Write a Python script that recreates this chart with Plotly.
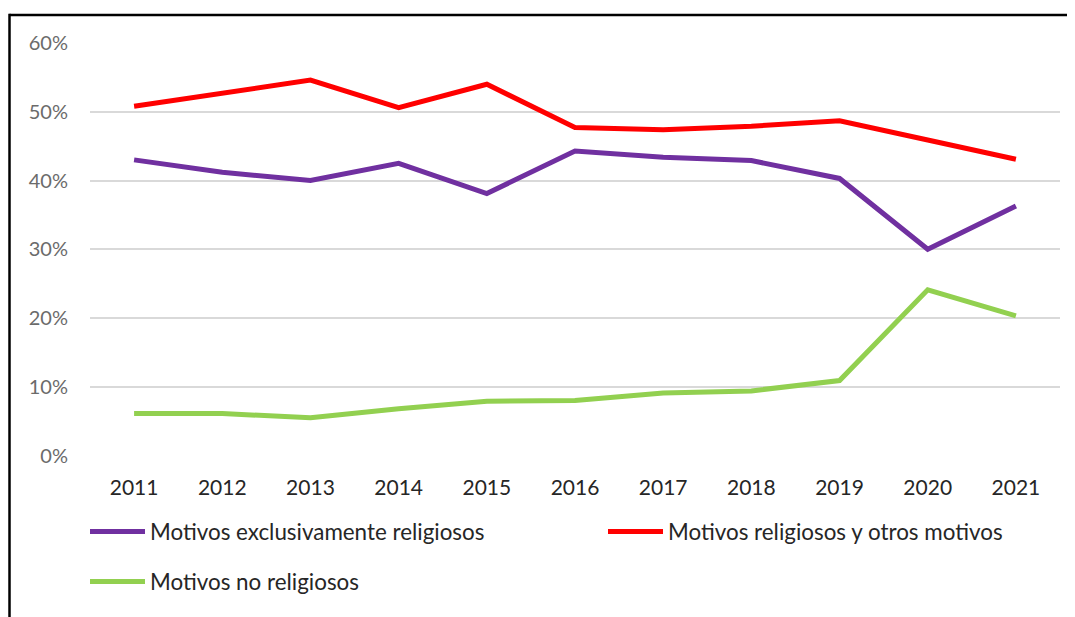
import plotly.graph_objects as go

years = ["2011", "2012", "2013", "2014", "2015", "2016", "2017", "2018", "2019", "2020", "2021"]
exclusivamente = [43.0, 41.2, 40.0, 42.5, 38.1, 44.3, 43.4, 42.9, 40.3, 30.0, 36.3]
religiosos_otros = [50.8, 52.7, 54.6, 50.6, 54.0, 47.7, 47.4, 47.9, 48.7, 45.9, 43.1]
no_religiosos = [6.1, 6.1, 5.5, 6.8, 7.9, 8.0, 9.1, 9.4, 10.9, 24.1, 20.3]

names = ["Motivos exclusivamente religiosos", "Motivos religiosos y otros motivos", "Motivos no religiosos"]
colors = ["#7030A0", "#FF0000", "#92D050"]
series = [exclusivamente, religiosos_otros, no_religiosos]
legends = ["legend", "legend2", "legend3"]

FONT = "Lato"
fig = go.Figure()
for name, vals, col, lg in zip(names, series, colors, legends):
    fig.add_trace(go.Scatter(
        x=years, y=[v / 100 for v in vals], mode="lines", name=name,
        line=dict(color=col, width=5), legend=lg,
    ))

# page offset (body margin) in px
OFF = 8
W, H = 1075, 617
# desired page positions of the plot area
PL, PR, PT, PB = 90, 1060, 43, 463
L, T = PL - OFF, PT - OFF
R, B = W - (PR - OFF), H - (PB - OFF)
pw, ph = W - L - R, H - T - B

def px_x(x):
    return (x - OFF - L) / pw

def px_y(y):
    return (H - B - (y - OFF)) / ph

def cx(x):
    return (x - OFF) / W

def cy(y):
    return 1 - (y - OFF) / H

legend_common = dict(
    orientation="h", xref="container", yref="container", xanchor="left", yanchor="middle",
    font=dict(family=FONT, size=22.4, color="#262626"), bgcolor="rgba(0,0,0,0)",
    itemwidth=55, borderwidth=0,
)

fig.update_layout(
    width=W, height=H,
    margin=dict(l=L, r=R, t=T, b=B),
    paper_bgcolor="white", plot_bgcolor="white",
    font=dict(family=FONT, size=20),
    showlegend=True,
    xaxis=dict(
        type="category", range=[-0.5, len(years) - 0.5],
        showgrid=False, zeroline=False, showline=False,
        tickfont=dict(family=FONT, size=21, color="#262626"),
        ticks="", ticklabelstandoff=17,
    ),
    yaxis=dict(
        range=[0, 0.6], tickvals=[0, 0.1, 0.2, 0.3, 0.4, 0.5, 0.6],
        tickformat=".0%", showgrid=True, gridcolor="#D9D9D9", gridwidth=1.5,
        zeroline=False, showline=False,
        tickfont=dict(family=FONT, size=20, color="#6b6b6b"),
        ticks="", ticklabelstandoff=21,
    ),
    legend=dict(x=cx(85), y=cy(532), **legend_common),
    legend2=dict(x=cx(603), y=cy(532), **legend_common),
    legend3=dict(x=cx(85), y=cy(582), **legend_common),
    shapes=[
        dict(type="line", xref="paper", yref="paper", x0=px_x(9.5), x1=px_x(1090),
             y0=px_y(14.5), y1=px_y(14.5), line=dict(color="black", width=2.5)),
        dict(type="line", xref="paper", yref="paper", x0=px_x(9.5), x1=px_x(9.5),
             y0=px_y(13.3), y1=px_y(640), line=dict(color="black", width=2.5)),
    ],
)

fig.write_html("out.html")
